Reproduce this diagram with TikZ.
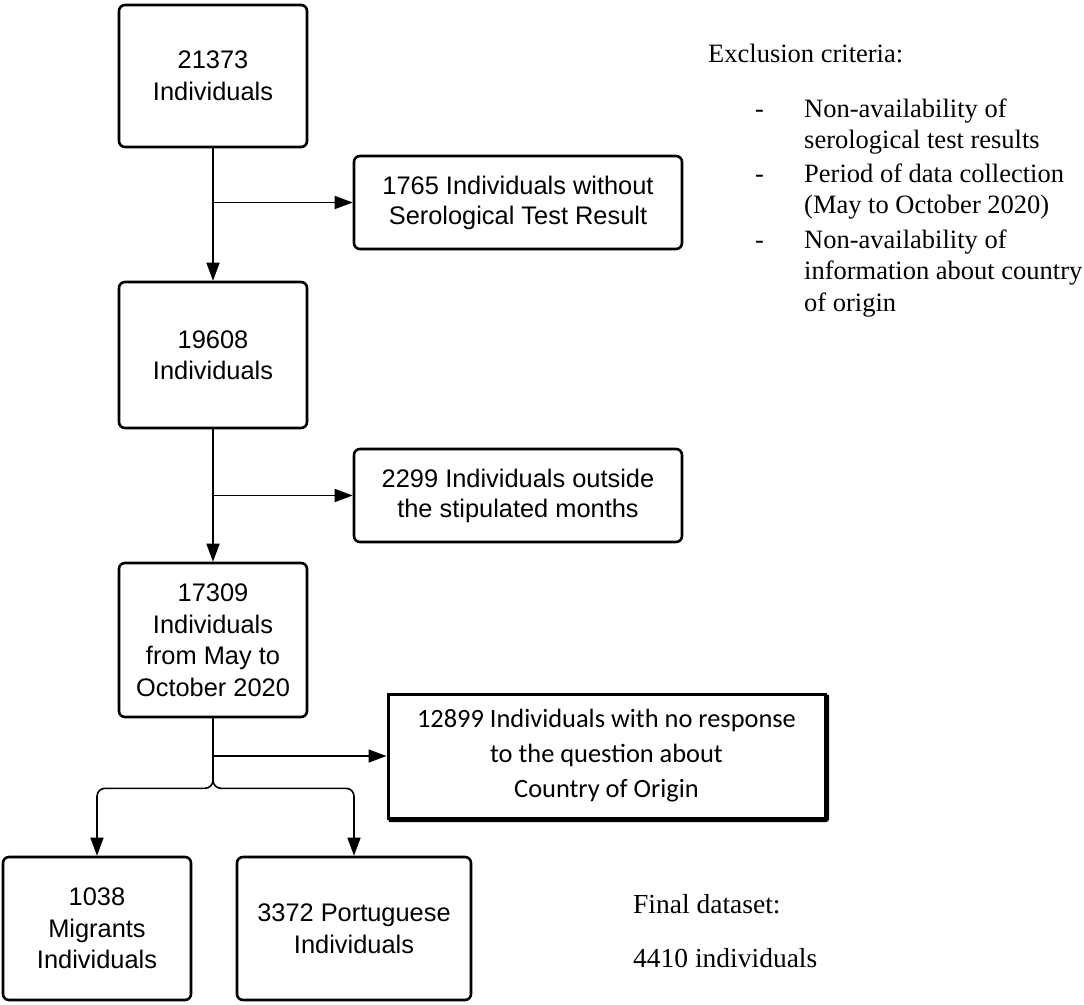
\documentclass[tikz,border=0pt]{standalone}
\usepackage{fontspec}
\setmainfont{Liberation Serif}
\newfontfamily\arialf{Liberation Sans}
\newfontfamily\calibrif{Carlito}
\usetikzlibrary{arrows.meta}
\begin{document}
\begin{tikzpicture}[x=1pt,y=-1pt,
  box/.style={draw, line width=2.6pt, rounded corners=6pt, align=center, inner sep=0pt,
    font=\arialf\fontsize{25.4}{31.5}\selectfont},
  sqbox/.style={draw, line width=3pt, align=center, inner sep=0pt,
    font=\calibrif\fontsize{26.4}{35}\selectfont},
  conn/.style={line width=1.6pt},
  arr/.style={conn, -{Triangle[length=18pt,width=13pt]}},
  serif/.style={anchor=base west, inner sep=0pt, font=\fontsize{26.5}{31}\selectfont},
]
\useasboundingbox (0,0) rectangle (1084,1004);

% main column
\node[box, minimum width=188pt, minimum height=142pt] (b1) at (213,76) {21373\\Individuals};
\node[box, minimum width=188pt, minimum height=146pt] (b2) at (213,355) {19608\\Individuals};
\node[box, minimum width=188pt, minimum height=154pt] (b3) at (213,640) {17309\\Individuals\\from May to\\October 2020};

% exclusion boxes
\node[box, minimum width=328pt, minimum height=93pt, font=\arialf\fontsize{25.4}{30}\selectfont] (e1) at (518,202.5) {1765 Individuals without\\Serological Test Result};
\node[box, minimum width=328pt, minimum height=93pt, font=\arialf\fontsize{25.4}{30}\selectfont] (e2) at (518,495.5) {2299 Individuals outside\\the stipulated months};
\node[sqbox, minimum width=437pt, minimum height=124pt] (e3) at (606.5,756) {12899 Individuals with no response\\to the question about\\Country of Origin};
\draw[line width=2.2pt, line cap=round, rounded corners=2pt] ([xshift=1.4pt,yshift=-3pt]e3.north east) -- ([xshift=1.4pt,yshift=-1.4pt]e3.south east) -- ([xshift=3pt,yshift=-1.4pt]e3.south west);

% final boxes
\node[box, minimum width=188pt, minimum height=143pt] (mig) at (97,928.5) {1038\\Migrants\\Individuals};
\node[box, minimum width=234pt, minimum height=143pt] (por) at (354,928.5) {3372 Portuguese\\Individuals};

% connectors
\draw[arr] (b1.south) -- (b2.north);
\draw[arr] (b1.south |- e1.west) -- (e1.west);
\draw[arr] (b2.south) -- (b3.north);
\draw[arr] (b2.south |- e2.west) -- (e2.west);
\coordinate (split) at ([yshift=-70pt]b3.south);
\draw[arr] (b3.south |- e3.west) -- (e3.west);
\draw[arr, rounded corners=8pt] (b3.south) -- (split) -| (mig.north);
\draw[arr, rounded corners=8pt] (b3.south) -- (split) -| (por.north);

% right-hand texts
\node[serif] (exc) at (708,62) {Exclusion criteria:};
\node[serif] (d1) at (755,117) {-};
\node[serif] (t1a) at (804,117) {Non-availability of};
\node[serif] (t1b) at (804,148.5) {serological test results};
\node[serif] (d2) at (755,182) {-};
\node[serif] (t2a) at (804,182) {Period of data collection};
\node[serif] (t2b) at (804,213.5) {(May to October 2020)};
\node[serif] (d3) at (755,248) {-};
\node[serif] (t3a) at (804,248) {Non-availability of};
\node[serif] (t3b) at (804,279.5) {information about country};
\node[serif] (t3c) at (804,311.5) {of origin};

\node[serif, font=\fontsize{27.5}{31}\selectfont] (fin) at (633,913) {Final dataset:};
\node[serif, font=\fontsize{27.5}{31}\selectfont] (fin2) at (633,967) {4410 individuals};
\end{tikzpicture}
\end{document}
